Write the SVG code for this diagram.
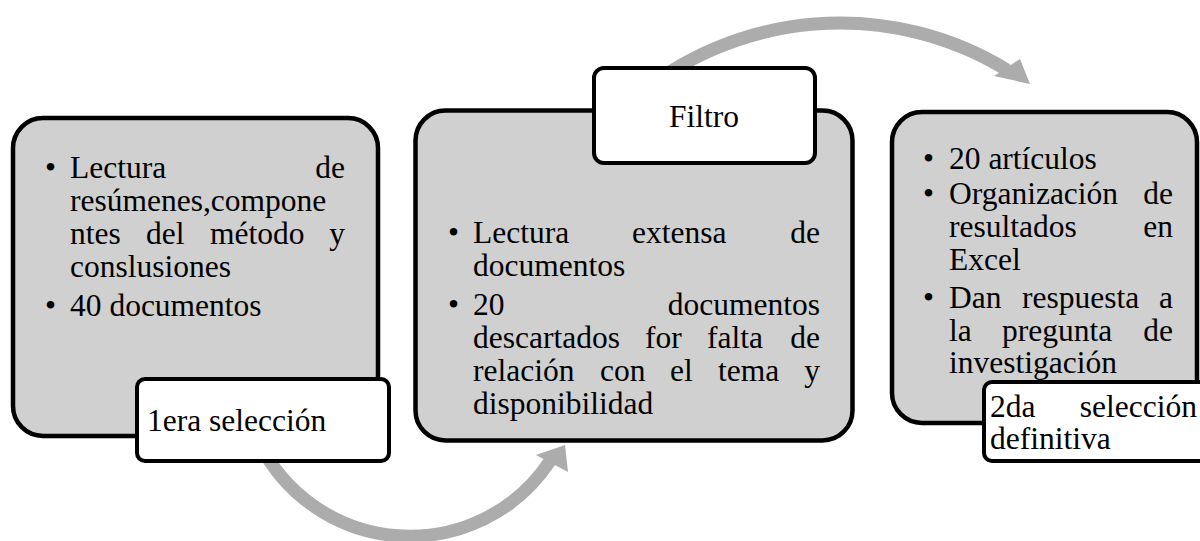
<svg xmlns="http://www.w3.org/2000/svg" width="1200" height="541" viewBox="0 0 1200 541">
<style>
.box{fill:#d0d0d0;stroke:#000;stroke-width:4.5}
.lbl{fill:#fff;stroke:#000;stroke-width:4}
.arc{fill:none;stroke:#acacac;stroke-width:13}
.head{fill:#acacac}
text{font-family:"Liberation Serif","Times New Roman",serif;font-size:31.5px;fill:#000}
.e{text-anchor:end}
</style>
<rect width="1200" height="541" fill="#fff"/>
<g id="connectors">
<path class="arc" d="M 258 440 A 168 168 0 0 0 550 461"/>
<polygon class="head" points="565,445 568,472 536,455"/>
<path class="arc" d="M 632 100 A 320 320 0 0 1 1007 70"/>
<polygon class="head" points="1030,84 1020,59 994,76"/>
</g>
<g id="node1">
<rect class="box" x="13" y="118" width="365" height="318" rx="30"/>
<text x="45" y="178">•</text>
<text x="70" y="178">Lectura</text><text class="e" x="345" y="178">de</text>
<text x="70" y="211">resúmenes,compone</text>
<text x="70" y="244">ntes</text><text x="146" y="244">del</text><text x="210" y="244">método</text><text class="e" x="345" y="244">y</text>
<text x="70" y="277">conslusiones</text>
<text x="45" y="316">•</text>
<text x="70" y="316">40 documentos</text>
</g>
<g id="label1">
<rect class="lbl" x="137" y="379" width="252" height="82" rx="8"/>
<text x="147" y="431">1era selección</text>
</g>
<g id="node2">
<rect class="box" x="415.5" y="110.5" width="437" height="330" rx="30"/>
<text x="448" y="243">•</text>
<text x="473" y="243">Lectura</text><text x="632" y="243">extensa</text><text class="e" x="820" y="243">de</text>
<text x="473" y="276">documentos</text>
<text x="448" y="315">•</text>
<text x="473" y="315">20</text><text class="e" x="820" y="315">documentos</text>
<text x="473" y="348">descartados</text><text x="645" y="348">for</text><text x="707" y="348">falta</text><text class="e" x="820" y="348">de</text>
<text x="473" y="381">relación</text><text x="600" y="381">con</text><text x="670" y="381">el</text><text x="718" y="381">tema</text><text class="e" x="820" y="381">y</text>
<text x="473" y="414">disponibilidad</text>
</g>
<g id="label2">
<rect class="lbl" x="594" y="68" width="221" height="95" rx="10"/>
<text x="704" y="127" text-anchor="middle">Filtro</text>
</g>
<g id="node3">
<rect class="box" x="892" y="112" width="305" height="311" rx="30"/>
<text x="923" y="169">•</text>
<text x="949" y="169">20 artículos</text>
<text x="923" y="204">•</text>
<text x="949" y="204">Organización</text><text class="e" x="1173" y="204">de</text>
<text x="949" y="237">resultados</text><text class="e" x="1173" y="237">en</text>
<text x="949" y="270">Excel</text>
<text x="923" y="308">•</text>
<text x="949" y="308">Dan</text><text x="1022" y="308">respuesta</text><text class="e" x="1173" y="308">a</text>
<text x="949" y="341">la</text><text x="1002" y="341">pregunta</text><text class="e" x="1173" y="341">de</text>
<text x="949" y="373">investigación</text>
</g>
<g id="label3">
<rect class="lbl" x="984" y="382" width="230" height="79" rx="8"/>
<text x="990" y="417">2da</text><text class="e" x="1197" y="417">selección</text>
<text x="990" y="449">definitiva</text>
</g>
</svg>
